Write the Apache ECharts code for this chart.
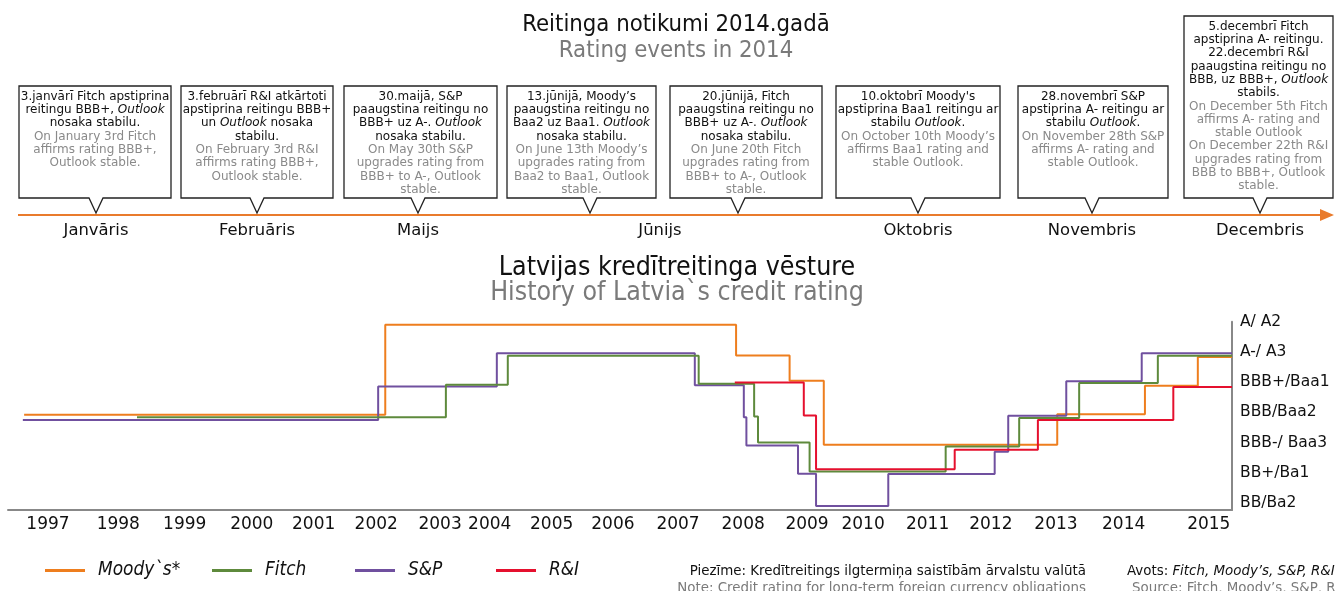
<!DOCTYPE html>
<html><head><meta charset="utf-8">
<script src="https://cdn.jsdelivr.net/npm/echarts@6/dist/echarts.min.js"></script>
<style>html,body{margin:0;padding:0;background:#fff}#c{width:1335px;height:591px}</style>
</head><body><div id="c"></div>
<script>
// ---------- DATA ----------
const seriesNames = ['Moody`s*', 'Fitch', 'S&P', 'R&I'];
// rating scale: 1=BB/Ba2 ... 7=A/A2 ; dates in decimal years, each point = new level from that date
const moodysDates  = [1996.63, 2002.23, 2007.67, 2008.50, 2009.03, 2012.65, 2014.01, 2014.83, 2015.36];
const moodysLevels = [4.02, 7.00, 5.98, 5.15, 3.03, 4.04, 4.98, 5.93, 5.93];
const fitchDates   = [1998.38, 2003.17, 2004.13, 2007.09, 2007.95, 2008.01, 2008.81, 2010.92, 2012.06, 2012.99, 2014.21, 2015.36];
const fitchLevels  = [3.94, 5.01, 5.97, 5.05, 3.96, 3.10, 2.14, 2.97, 3.91, 5.07, 5.97, 5.97];
const spDates      = [1996.61, 2002.12, 2003.96, 2007.03, 2007.79, 2007.83, 2008.63, 2008.91, 2010.03, 2011.68, 2011.89, 2012.79, 2013.96, 2015.36];
const spLevels     = [3.85, 4.96, 6.06, 5.00, 3.94, 3.00, 2.07, 1.00, 2.06, 2.80, 3.99, 5.13, 6.06, 6.06];
const riDates      = [2007.65, 2008.72, 2008.91, 2011.06, 2012.35, 2014.45, 2015.36];
const riLevels     = [5.09, 4.00, 2.22, 2.86, 3.85, 4.94, 4.94];

const yearLabels   = ['1997','1998','1999','2000','2001','2002','2003','2004','2005','2006','2007','2008','2009','2010','2011','2012','2013','2014','2015'];
const yearLabelPos = [1997.00,1998.09,1999.12,2000.16,2001.12,2002.09,2003.08,2003.85,2004.81,2005.76,2006.77,2007.78,2008.77,2009.64,2010.64,2011.62,2012.63,2013.68,2015.00];
const ratingLabels   = ['BB/Ba2','BB+/Ba1','BBB-/ Baa3','BBB/Baa2','BBB+/Baa1','A-/ A3','A/ A2'];
const ratingLabelPos = [1.1, 2.1, 3.1, 4.1, 5.1, 6.1, 7.1];

const monthLabels = ['Janvāris','Februāris','Maijs','Jūnijs','Oktobris','Novembris','Decembris'];
const eventLv = [
  ['3.janvārī Fitch apstiprina','reitingu BBB+, *Outlook*','nosaka stabilu.'],
  ['3.februārī R&I atkārtoti','apstiprina reitingu BBB+','un *Outlook* nosaka','stabilu.'],
  ['30.maijā, S&P','paaugstina reitingu no','BBB+ uz A-. *Outlook*','nosaka stabilu.'],
  ['13.jūnijā, Moody’s','paaugstina reitingu no','Baa2 uz Baa1. *Outlook*','nosaka stabilu.'],
  ['20.jūnijā, Fitch','paaugstina reitingu no','BBB+ uz A-. *Outlook*','nosaka stabilu.'],
  ["10.oktobrī Moody's",'apstiprina Baa1 reitingu ar','stabilu *Outlook*.'],
  ['28.novembrī S&P','apstiprina A- reitingu ar','stabilu *Outlook*.'],
  ['5.decembrī Fitch','apstiprina A- reitingu.','22.decembrī R&I','paaugstina reitingu no','BBB, uz BBB+, *Outlook*','stabils.']
];
const eventEn = [
  ['On January 3rd Fitch','affirms rating BBB+,','Outlook stable.'],
  ['On February 3rd R&I','affirms rating BBB+,','Outlook stable.'],
  ['On May 30th S&P','upgrades rating from','BBB+ to A-, Outlook','stable.'],
  ['On June 13th Moody’s','upgrades rating from','Baa2 to Baa1, Outlook','stable.'],
  ['On June 20th Fitch','upgrades rating from','BBB+ to A-, Outlook','stable.'],
  ['On October 10th Moody’s','affirms Baa1 rating and','stable Outlook.'],
  ['On November 28th S&P','affirms A- rating and','stable Outlook.'],
  ['On December 5th Fitch','affirms A- rating and','stable Outlook','On December 22th R&I','upgrades rating from','BBB to BBB+, Outlook','stable.']
];

// ---------- LAYOUT ----------
const boxLeft   = [19, 181, 344, 507, 670, 836, 1018, 1184];
const boxRight  = [171, 333, 497, 656, 822, 1000, 1168, 1333];
const boxTop    = [86, 86, 86, 86, 86, 86, 86, 16];
const boxBottom = 198;
const pointerX  = [96, 257, 418, 590, 738, 918, 1092, 1260];
const monthX    = [96, 257, 418, 660, 918, 1092, 1260];
const legendLeft = [45, 212, 355, 496];
const colors = ['#EE7E1E', '#5E8A3C', '#70509F', '#E5102E'];

function hasFont(name){
  const c = document.createElement('canvas').getContext('2d');
  const t = 'mmmmmmmmmmlliWWW0123 abc';
  c.font = '40px monospace'; const a = c.measureText(t).width;
  c.font = `40px '${name}', monospace`; const b = c.measureText(t).width;
  return Math.abs(a - b) > 0.5;
}
const FAM_V = 'DejaVu Sans';
const FAM_T = hasFont('DejaVu Sans Condensed') ? 'DejaVu Sans Condensed' : 'DejaVu Sans';
const measureCtx = document.createElement('canvas').getContext('2d');
function fitSize(text, fam, target, style){
  measureCtx.font = `${style||''} 40px '${fam}'`;
  return Math.round(40 * target / measureCtx.measureText(text).width * 10) / 10;
}

const boxFS   = fitSize('3.janvārī Fitch apstiprina', FAM_V, 149);
const monthFS = fitSize('Janvāris', FAM_V, 65);
const t1FS    = fitSize('Reitinga notikumi 2014.gadā', FAM_T, 308);
const t2FS    = fitSize('Latvijas kredītreitinga vēsture', FAM_T, 356);
const legFS   = fitSize('Moody`s*', FAM_T, 82, 'italic');
const noteFS  = fitSize('Piezīme: Kredītreitings ilgtermiņa saistībām ārvalstu valūtā', FAM_T, 396);

function richLines(lines, k, ki){
  return lines.map(l => l.split(/(\*[^*]+\*)/).filter(s => s).map(s =>
    s.charAt(0) === '*' ? `{${ki}|${s.slice(1, -1)}}` : `{${k}|${s}}`).join('')).join('\n');
}

const graphics = [];
function txt(text, x, y, size, color, fam, extra){
  return {type:'text', x, y, silent:true, style:Object.assign({text, fontFamily:fam||FAM_T, fontSize:size, fill:color,
    align:'center', verticalAlign:'middle', textAlign:'center', textVerticalAlign:'middle'}, extra||{})};
}
graphics.push(txt('Reitinga notikumi 2014.gadā', 676, 25, t1FS, '#111'));
graphics.push(txt('Rating events in 2014', 676, 51, t1FS, '#7a7a7a'));
graphics.push(txt('Latvijas kredītreitinga vēsture', 677, 268, t2FS, '#111'));
graphics.push(txt('History of Latvia`s credit rating', 677, 293, t2FS, '#7a7a7a'));
// timeline
graphics.push({type:'line', silent:true, shape:{x1:18, y1:215, x2:1322, y2:215}, style:{stroke:'#E97B2C', lineWidth:2}});
graphics.push({type:'polygon', silent:true, shape:{points:[[1320,209],[1334,215],[1320,221]]}, style:{fill:'#E97B2C'}});
// boxes
const richStyle = {
  k:  {fontFamily:FAM_V, fontSize:boxFS, lineHeight:13.3, fill:'#111', color:'#111', align:'center'},
  ki: {fontFamily:FAM_V, fontSize:boxFS, lineHeight:13.3, fill:'#111', color:'#111', fontStyle:'italic', align:'center'},
  g:  {fontFamily:FAM_V, fontSize:boxFS, lineHeight:13.3, fill:'#8a8a8a', color:'#8a8a8a', align:'center'},
  gi: {fontFamily:FAM_V, fontSize:boxFS, lineHeight:13.3, fill:'#8a8a8a', color:'#8a8a8a', fontStyle:'italic', align:'center'}
};
eventLv.forEach((lv, i) => {
  const L = boxLeft[i], R = boxRight[i], T = boxTop[i], B = boxBottom, P = pointerX[i];
  graphics.push({type:'polygon', silent:true, shape:{points:[[L,T],[R,T],[R,B],[P+7,B],[P,213],[P-7,B],[L,B]]},
    style:{fill:'#fff', stroke:'#222', lineWidth:1.3}});
  graphics.push({type:'text', silent:true, x:(L + R) / 2, y:T + 4, style:{
    text: richLines(lv, 'k', 'ki') + '\n' + richLines(eventEn[i], 'g', 'gi'),
    rich: richStyle, align:'center', textAlign:'center', verticalAlign:'top', textVerticalAlign:'top',
    fontFamily:FAM_V, fontSize:boxFS, lineHeight:13.3}});
});
monthLabels.forEach((m, i) => graphics.push(txt(m, monthX[i], 231, monthFS, '#111', FAM_V)));
// notes
graphics.push(txt('Piezīme: Kredītreitings ilgtermiņa saistībām ārvalstu valūtā', 1086, 571, noteFS, '#111', FAM_T, {align:'right', textAlign:'right'}));
graphics.push(txt('Note: Credit rating for long-term foreign currency obligations', 1086, 588, noteFS, '#7a7a7a', FAM_T, {align:'right', textAlign:'right'}));
graphics.push({type:'text', silent:true, x:1127, y:571, style:{text:'{n|Avots: }{i|Fitch, Moody’s, S&P, R&I}',
  rich:{n:{fontFamily:FAM_T, fontSize:noteFS, fill:'#111', color:'#111'}, i:{fontFamily:FAM_T, fontSize:noteFS, fill:'#111', color:'#111', fontStyle:'italic'}},
  align:'left', verticalAlign:'middle', textAlign:'left', textVerticalAlign:'middle', fontFamily:FAM_T, fontSize:noteFS}});
graphics.push(txt('Source: Fitch, Moody’s, S&P, R&I', 1132, 588, noteFS, '#7a7a7a', FAM_T, {align:'left', textAlign:'left'}));

const allDates = [moodysDates, fitchDates, spDates, riDates];
const allLevels = [moodysLevels, fitchLevels, spLevels, riLevels];
const zOrder = [2, 3, 2, 4];

const option = {
  animation: false,
  backgroundColor: '#fff',
  grid: {left: 8, right: 103, top: 321.7, bottom: 81},
  xAxis: {
    type: 'value', min: 1996.38, max: 2015.36,
    axisLine: {show: true, onZero: false, lineStyle: {color: '#888', width: 2}},
    axisTick: {show: false}, splitLine: {show: false},
    axisLabel: {customValues: yearLabelPos, margin: 6, color: '#111', fontFamily: FAM_V, fontSize: 17,
      formatter: v => { const i = yearLabelPos.findIndex(p => Math.abs(p - v) < 1e-6); return i >= 0 ? yearLabels[i] : ''; }}
  },
  yAxis: {
    type: 'value', position: 'right', min: 0.87, max: 7.1,
    axisLine: {show: true, onZero: false, lineStyle: {color: '#888', width: 2}},
    axisTick: {show: false}, splitLine: {show: false},
    axisLabel: {customValues: ratingLabelPos, margin: 8, color: '#111', fontFamily: FAM_V, fontSize: 15.5, align: 'left',
      formatter: v => { const i = ratingLabelPos.findIndex(p => Math.abs(p - v) < 1e-6); return i >= 0 ? ratingLabels[i] : ''; }}
  },
  legend: seriesNames.map((n, i) => ({
    data: [n], left: legendLeft[i], top: Math.round(573 - legFS * 0.62), padding: 0, icon: 'rect', itemWidth: 40, itemHeight: 3,
    textStyle: {fontFamily: FAM_T, fontStyle: 'italic', fontSize: legFS, color: '#111', padding: [0, 0, 0, 8]}
  })),
  series: seriesNames.map((n, i) => ({
    name: n, type: 'line', step: 'end', showSymbol: false, symbol: 'none', z: zOrder[i],
    data: allDates[i].map((d, j) => [d, allLevels[i][j]]),
    lineStyle: {width: 2, color: colors[i]}, itemStyle: {color: colors[i]}
  })),
  graphic: {elements: graphics}
};
const chart = echarts.init(document.getElementById('c'), null, {renderer: 'canvas'});
chart.setOption(option);
</script>
</body></html>
